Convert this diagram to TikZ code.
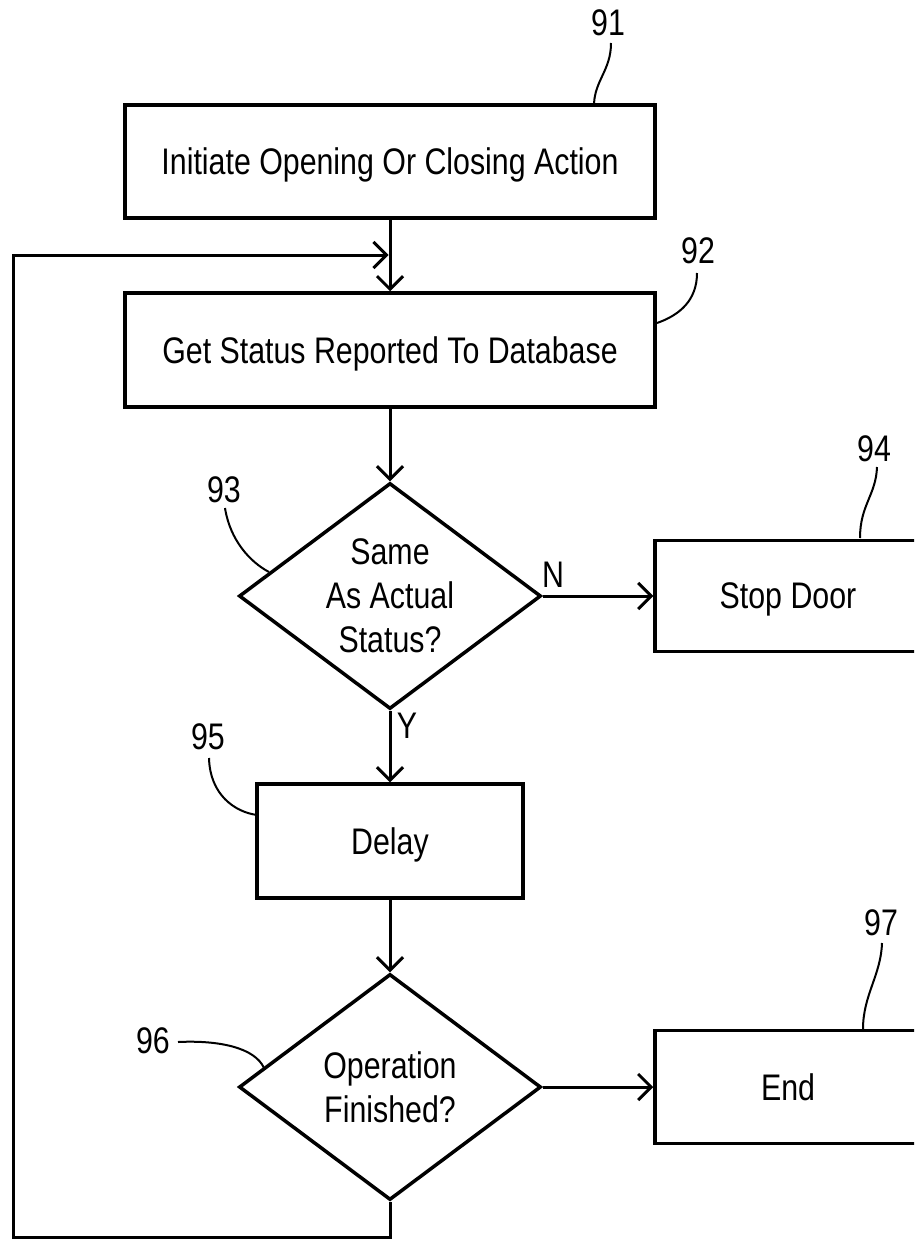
\documentclass[tikz,border=0pt]{standalone}
\usepackage{fontspec}
\setmainfont{Liberation Sans}[FakeStretch=0.82]
\usetikzlibrary{shapes.geometric,arrows.meta}
\begin{document}
\begin{tikzpicture}[x=1pt,y=-1pt,
  every node/.style={font=\fontsize{37}{44}\selectfont},
  proc/.style={draw,line width=3.5pt,rectangle,inner sep=0pt,text depth=0pt},
  dec/.style={draw,line width=3.5pt,diamond,shape aspect=1.336,inner sep=0pt,
    minimum width=302pt,minimum height=226pt,align=center},
  conn/.style={line width=3pt},
  arr/.style={conn,-{Straight Barb[length=13pt,width=26pt]}},
  lead/.style={line width=2pt},
  num/.style={inner sep=0pt}]
\useasboundingbox (0,0) rectangle (914,1239);
\clip (0,0) rectangle (914,1239);

% boxes and decisions
\node[proc,minimum width=530pt,minimum height=113pt] (b91) at (390,161.5) {Initiate Opening Or Closing Action};
\node[proc,minimum width=530pt,minimum height=114pt] (b92) at (390,350) {Get Status Reported To Database};
\node[dec] (d93) at (390,596) {Same\\As Actual\\Status?};
\node[proc,minimum width=266pt,minimum height=111pt] (b94) at (788,596) {Stop Door};
\node[proc,minimum width=266pt,minimum height=114pt] (b95) at (390,841) {Delay};
\node[dec] (d96) at (390,1087) {Operation\\Finished?};
\node[proc,minimum width=266pt,minimum height=113pt] (b97) at (788,1087) {End};

% reference numerals
\node[num] (l91) at (608,23) {91};
\node[num] (l92) at (698,251) {92};
\node[num] (l93) at (224,490) {93};
\node[num] (l94) at (874,449) {94};
\node[num] (l95) at (208,737) {95};
\node[num] (l96) at (153,1041) {96};
\node[num] (l97) at (881,923) {97};

% branch labels
\node[num] (lN) at (553,575) {N};
\node[num] (lY) at (407,726) {Y};

% connectors
\draw[arr] (b91.south) -- (b92.north);
\draw[arr] (b92.south) -- (d93.north);
\draw[arr] (d93.east) -- (b94.west);
\draw[arr] (d93.south) -- (b95.north);
\draw[arr] (b95.south) -- (d96.north);
\draw[arr] (d96.east) -- (b97.west);
\coordinate (c1) at (390,1237);
\coordinate (c2) at (13,1237);
\coordinate (c3) at (13,255);
\coordinate (c4) at (388.5,255);
\draw[arr] (d96.south) -- (c1) -- (c2) -- (c3) -- (c4);

% leader lines
\draw[lead] (611,43) .. controls (611,70) and (595,80) .. (594,104);
\draw[lead] (697,273) .. controls (697,300) and (680,315) .. (657,323);
\draw[lead] (225,508) .. controls (230,540) and (250,562) .. (269,572);
\draw[lead] (877,467) .. controls (876,495) and (860,505) .. (860,538);
\draw[lead] (209,758) .. controls (210,795) and (235,812) .. (257,815);
\draw[lead] (178,1042) .. controls (220,1040) and (255,1048) .. (264,1068);
\draw[lead] (882,943) .. controls (881,975) and (863,995) .. (863,1029);
\end{tikzpicture}
\end{document}
